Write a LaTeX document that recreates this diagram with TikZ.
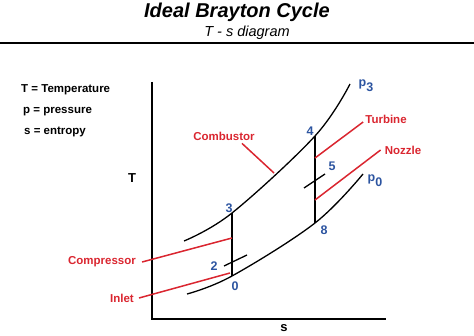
\documentclass[tikz,border=0pt]{standalone}
\usepackage{fontspec}
\setmainfont{Liberation Sans}
\definecolor{labred}{RGB}{218,38,48}
\definecolor{ptblue}{RGB}{44,84,160}
\begin{document}
\begin{tikzpicture}[x=1pt,y=-1pt,
    every node/.style={inner sep=0pt,font=\bfseries\fontsize{11.5}{13}\selectfont},
    part/.style={color=labred},
    state/.style={color=ptblue,font=\bfseries\fontsize{12.5}{14}\selectfont},
    lead/.style={color=labred,line width=1.5pt},
    isobar/.style={line width=1.3pt},
    axis/.style={line width=2pt}]
    \useasboundingbox (0,0) rectangle (474,336);

    \node[font=\bfseries\itshape\fontsize{20}{24}\selectfont] (title) at (237,12) {Ideal Brayton Cycle};
    \node[font=\itshape\fontsize{14.5}{17}\selectfont] (sub) at (247,33) {T - s diagram};
    \draw[line width=2pt] (0,43) -- (474,43);

    \node[anchor=west] (leg1) at (21,90) {T = Temperature};
    \node[anchor=west] (leg2) at (23,112) {p = pressure};
    \node[anchor=west] (leg3) at (24,132) {s = entropy};

    % axes
    \coordinate (ytop) at (152,82);
    \coordinate (origin) at (152,319);
    \coordinate (xend) at (386,319);
    \draw[axis] (ytop) -- (origin) -- (xend);
    \node[font=\bfseries\fontsize{13}{15}\selectfont] (T) at (132,178) {T};
    \node[font=\bfseries\fontsize{13}{15}\selectfont] (s) at (284,328) {s};

    % states
    \coordinate (s0) at (232,276);
    \coordinate (s2) at (232,262);
    \coordinate (s3) at (232,213);
    \coordinate (s4) at (315,136);
    \coordinate (s5) at (315,181);
    \coordinate (s8) at (315,223);

    \draw[isobar] plot[smooth,tension=0.6] coordinates {(184,241) (s3) (s4) (350,84)};
    \draw[isobar] plot[smooth,tension=0.6] coordinates {(187,294) (s0) (s8) (363,174)};
    \draw[isobar] (224,266) -- (247,255);
    \draw[isobar] (304,188) -- (325,174);
    \draw[line width=1.5pt] (s3) -- (s0);
    \draw[line width=1.5pt] (s4) -- (s8);

    \node[state] (n0) at (235,286) {0};
    \node[state] (n2) at (214,266) {2};
    \node[state] (n3) at (229,208) {3};
    \node[state] (n4) at (310,131) {4};
    \node[state] (n5) at (332,166) {5};
    \node[state] (n8) at (324,230) {8};
    \node[state] (p3) at (366,86) {p\raisebox{-5pt}{3}};
    \node[state] (p0) at (375,181) {p\raisebox{-5pt}{0}};

    % components
    \node[part] (comb) at (224,136) {Combustor};
    \node[part] (turb) at (386,119) {Turbine};
    \node[part] (nozz) at (403,150) {Nozzle};
    \node[part] (comp) at (102,262) {Compressor};
    \node[part] (inlet) at (122,298) {Inlet};

    \coordinate (combtip) at (274,173);
    \coordinate (turbtip) at (315,158);
    \coordinate (nozztip) at (315,200);
    \coordinate (comptip) at (232,238);
    \coordinate (inlettip) at (230,273);
    \draw[lead] ([xshift=18pt,yshift=-3pt]comb.south) -- (combtip);
    \draw[lead] ([xshift=-2pt,yshift=-3pt]turb.west) -- (turbtip);
    \draw[lead] ([xshift=-4pt]nozz.west) -- (nozztip);
    \draw[lead] ([xshift=6pt]comp.east) -- (comptip);
    \draw[lead] ([xshift=5pt]inlet.east) -- (inlettip);
\end{tikzpicture}
\end{document}
